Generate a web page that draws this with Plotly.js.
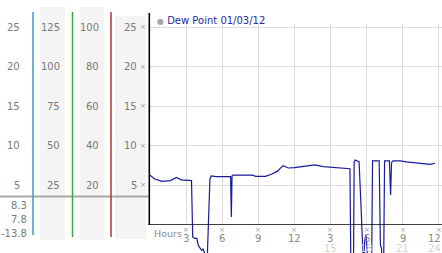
<!DOCTYPE html>
<html>
<head>
<meta charset="utf-8">
<script src="https://cdn.plot.ly/plotly-3.0.1.min.js"></script>
<style>html,body{margin:0;padding:0;background:#fff;}#chart{width:442px;height:253px;}</style>
</head>
<body>
<div id="chart"></div>
<script>
// ---- data ----
var hours = [0.0,0.4,1.0,1.7,2.2,2.6,3.45,3.55,3.7,3.9,4.0,4.15,4.3,4.4,4.55,4.72,4.98,5.1,5.5,6.6,6.7,6.76,6.82,6.9,8.5,8.8,9.6,10.1,10.6,11.05,11.5,12.0,12.5,13.7,14.4,15.2,16.5,16.62,16.72,16.9,16.97,17.05,17.38,17.6,17.75,17.85,17.95,18.05,18.15,18.4,18.5,19.05,19.15,19.25,19.3,19.4,19.5,19.9,20.0,20.08,20.2,20.8,21.3,22.2,23.3,23.7];
var dewPoint = [6.3,5.8,5.5,5.6,6.0,5.7,5.6,-1.5,-1.7,-1.7,-2.5,-2.9,-3.2,-3.0,-3.6,-6.0,5.8,6.2,6.1,6.1,6.1,1.0,6.2,6.3,6.3,6.15,6.15,6.4,6.8,7.5,7.2,7.25,7.37,7.58,7.37,7.25,7.15,7.1,-9.0,-9.0,7.9,8.2,8.0,0.0,-5.0,-2.0,-1.2,-3.0,-9.0,-9.0,8.1,8.1,-2.5,-3.0,-13.8,-9.0,8.1,8.1,3.8,7.9,8.1,8.1,7.96,7.8,7.66,7.8];
var gridValues = [25,20,15,10,5];
var col1Labels = ['25','20','15','10','5'];
var col2Labels = ['125','100','75','50','25'];
var col3Labels = ['100','80','60','40','20'];
var col4Labels = ['25','20','15','10','5'];
var statLabels = ['8.3','7.8','-13.8'];
var xTickVals = [3,6,9,12,15,18,21,24];
var xTickLabels = ['3','6','9','12','3','6','9','12'];
var xTick2Vals = [15,18,21,24];
var xTick2Labels = ['15','18','21','24'];
var seriesName = 'Dew Point 01/03/12';

// ---- helpers ----
var W = 442, H = 253;
function px(x){ return x / W; }
function py(y){ return 1 - y / H; }
var F = 'DejaVu Sans, Verdana, sans-serif';
var lineColor = '#1a1a9c';

var traces = [
  {x: hours, y: dewPoint, type: 'scatter', mode: 'lines', xaxis: 'x', yaxis: 'y',
   line: {color: lineColor, width: 1.2}, hoverinfo: 'skip', showlegend: false},
  {x: hours, y: dewPoint, type: 'scatter', mode: 'lines', xaxis: 'x2', yaxis: 'y2',
   line: {color: lineColor, width: 1.2}, hoverinfo: 'skip', showlegend: false}
];

var shapes = [];
[[40,65,7,240],[80,104,7,240],[115,146,16,239]].forEach(function(r){
  shapes.push({type:'rect', xref:'paper', yref:'paper', x0:px(r[0]), x1:px(r[1]), y0:py(r[3]), y1:py(r[2]),
    fillcolor:'#f4f4f4', line:{width:0}, layer:'below'});
});
shapes.push({type:'line', xref:'paper', yref:'paper', x0:0, x1:px(149), y0:py(196.5), y1:py(196.5),
  line:{color:'#a8a8a8', width:2}});
[[33,'#3a9cc4',235],[72.5,'#3aa83a',237],[111,'#b03434',237]].forEach(function(c){
  shapes.push({type:'line', xref:'paper', yref:'paper', x0:px(c[0]), x1:px(c[0]), y0:py(c[2]), y1:py(12),
    line:{color:c[1], width:1.5}});
});
shapes.push({type:'line', xref:'paper', yref:'paper', x0:px(149.3), x1:px(149.3), y0:py(225), y1:py(13),
  line:{color:'#000', width:1.6}});
shapes.push({type:'line', xref:'paper', yref:'y', x0:px(148.5), x1:1, y0:0, y1:0,
  line:{color:'#000', width:1.6}});

var annotations = [];
function ann(text, x, xref, y, yref, xanchor, size, color){
  annotations.push({text:text, x:x, xref:xref, y:y, yref:yref, xanchor:xanchor, yanchor:'middle',
    showarrow:false, font:{family:F, size:size, color:color}, borderpad:0});
}
var lab = '#7a7a7a';
gridValues.forEach(function(v,i){
  ann(col1Labels[i], px(20.5), 'paper', v, 'y', 'right', 10, lab);
  ann(col2Labels[i], px(60.5), 'paper', v, 'y', 'right', 10, lab);
  ann(col3Labels[i], px(99.5), 'paper', v, 'y', 'right', 10, lab);
  ann(col4Labels[i], px(137.5), 'paper', v, 'y', 'right', 10, lab);
  ann('×', px(143), 'paper', v, 'y', 'center', 7, '#999');
});
var statY = [205, 219, 233];
statLabels.forEach(function(s,i){ ann(s, px(27.5), 'paper', py(statY[i]), 'paper', 'right', 10, lab); });

ann('Hours', px(153), 'paper', py(233), 'paper', 'left', 9.5, '#888');
function edgeX(v){ return v >= 24 ? {x: px(442), xref: 'paper', anchor: 'right'} : {x: v, xref: 'x', anchor: 'center'}; }
xTickVals.forEach(function(v,i){
  ann('×', v, 'x', py(230), 'paper', 'center', 7, '#999');
  var e = edgeX(v);
  ann(xTickLabels[i], e.x, e.xref, py(238.5), 'paper', e.anchor, 10, '#888');
});
xTick2Vals.forEach(function(v,i){
  var e = edgeX(v);
  ann(xTick2Labels[i], e.x, e.xref, py(248), 'paper', e.anchor, 10, '#d4d4d4');
});
ann('<span style="color:#a4a4a4;font-size:8px">●</span> ' + seriesName, px(156), 'paper', py(21), 'paper', 'left', 10, '#2a2aa6');

var layout = {
  width: W, height: H,
  margin: {l:0, r:0, t:0, b:0, pad:0},
  paper_bgcolor: '#fff', plot_bgcolor: 'rgba(0,0,0,0)',
  showlegend: false,
  xaxis: {domain:[px(150),1], range:[0, (W-150)/12.03], tickvals:xTickVals, showticklabels:false,
          showgrid:true, gridcolor:'#dcdcdc', gridwidth:1, zeroline:false, showline:false, ticks:'', anchor:'y', fixedrange:true},
  yaxis: {domain:[py(225), py(24)], range:[0, (225-24)/7.92], tickvals:gridValues, showticklabels:false,
          showgrid:true, gridcolor:'#dcdcdc', gridwidth:1, zeroline:false, showline:false, ticks:'', anchor:'x', fixedrange:true},
  xaxis2: {domain:[px(150),1], matches:'x', anchor:'y2', visible:false, showgrid:false, zeroline:false},
  yaxis2: {domain:[0, py(225)], range:[-(253-225)/7.92, 0], anchor:'x2', visible:false, showgrid:false, zeroline:false},
  shapes: shapes,
  annotations: annotations
};

Plotly.newPlot('chart', traces, layout, {staticPlot:true, displayModeBar:false});
</script>
</body>
</html>
